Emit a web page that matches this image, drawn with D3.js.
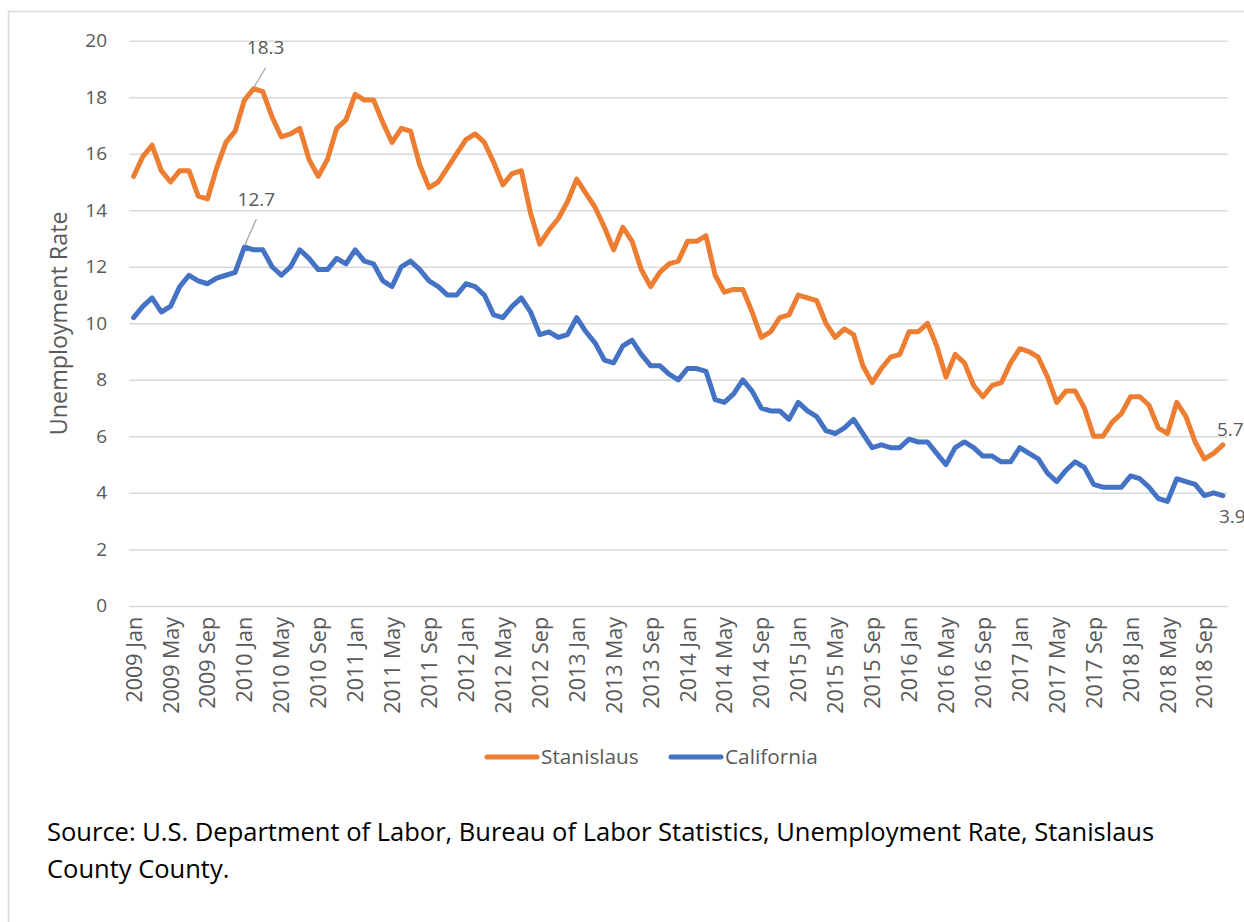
<!DOCTYPE html>
<html>
<head>
<meta charset="utf-8">
<script src="https://cdn.jsdelivr.net/npm/d3@7"></script>
<style>
  body { margin: 0; background: #fff; }
  svg { display: block; }
</style>
</head>
<body>
<svg id="chart" width="1244" height="922"></svg>
<script>
// Monthly categories, 2009 Jan through 2018 Nov
const monthNames = ["Jan","Feb","Mar","Apr","May","Jun","Jul","Aug","Sep","Oct","Nov","Dec"];
const years = [2009, 2010, 2011, 2012, 2013, 2014, 2015, 2016, 2017, 2018];
const lastMonthOfFinalYear = 11; // November
const categories = [];
years.forEach((yr, yi) => {
  const nMonths = yi === years.length - 1 ? lastMonthOfFinalYear : 12;
  for (let m = 0; m < nMonths; m++) categories.push(yr + " " + monthNames[m]);
});

// Unemployment rate (%), Stanislaus County
const stanislaus = [
  15.2, 15.9, 16.3, 15.4, 15.0, 15.4, 15.4, 14.5, 14.4, 15.5, 16.4, 16.8,
  17.9, 18.3, 18.2, 17.3, 16.6, 16.7, 16.9, 15.8, 15.2, 15.8, 16.9, 17.2,
  18.1, 17.9, 17.9, 17.1, 16.4, 16.9, 16.8, 15.6, 14.8, 15.0, 15.5, 16.0,
  16.5, 16.7, 16.4, 15.7, 14.9, 15.3, 15.4, 13.9, 12.8, 13.3, 13.7, 14.3,
  15.1, 14.6, 14.1, 13.4, 12.6, 13.4, 12.9, 11.9, 11.3, 11.8, 12.1, 12.2,
  12.9, 12.9, 13.1, 11.7, 11.1, 11.2, 11.2, 10.4, 9.5, 9.7, 10.2, 10.3,
  11.0, 10.9, 10.8, 10.0, 9.5, 9.8, 9.6, 8.5, 7.9, 8.4, 8.8, 8.9,
  9.7, 9.7, 10.0, 9.2, 8.1, 8.9, 8.6, 7.8, 7.4, 7.8, 7.9, 8.6,
  9.1, 9.0, 8.8, 8.1, 7.2, 7.6, 7.6, 7.0, 6.0, 6.0, 6.5, 6.8,
  7.4, 7.4, 7.1, 6.3, 6.1, 7.2, 6.7, 5.8, 5.2, 5.4, 5.7
];

// Unemployment rate (%), California
const california = [
  10.2, 10.6, 10.9, 10.4, 10.6, 11.3, 11.7, 11.5, 11.4, 11.6, 11.7, 11.8,
  12.7, 12.6, 12.6, 12.0, 11.7, 12.0, 12.6, 12.3, 11.9, 11.9, 12.3, 12.1,
  12.6, 12.2, 12.1, 11.5, 11.3, 12.0, 12.2, 11.9, 11.5, 11.3, 11.0, 11.0,
  11.4, 11.3, 11.0, 10.3, 10.2, 10.6, 10.9, 10.4, 9.6, 9.7, 9.5, 9.6,
  10.2, 9.7, 9.3, 8.7, 8.6, 9.2, 9.4, 8.9, 8.5, 8.5, 8.2, 8.0,
  8.4, 8.4, 8.3, 7.3, 7.2, 7.5, 8.0, 7.6, 7.0, 6.9, 6.9, 6.6,
  7.2, 6.9, 6.7, 6.2, 6.1, 6.3, 6.6, 6.1, 5.6, 5.7, 5.6, 5.6,
  5.9, 5.8, 5.8, 5.4, 5.0, 5.6, 5.8, 5.6, 5.3, 5.3, 5.1, 5.1,
  5.6, 5.4, 5.2, 4.7, 4.4, 4.8, 5.1, 4.9, 4.3, 4.2, 4.2, 4.2,
  4.6, 4.5, 4.2, 3.8, 3.7, 4.5, 4.4, 4.3, 3.9, 4.0, 3.9
];

const yTicks = [0, 2, 4, 6, 8, 10, 12, 14, 16, 18, 20];
const xTickLabels = categories.filter((c, i) => i % 4 === 0);

const seriesNames = ["Stanislaus", "California"];
const seriesColors = ["#ED7D31", "#4472C4"];
const seriesValues = [stanislaus, california];

const TEXT = "#595959";
const GRID = "#d9d9d9";
const FONT = "'Open Sans', 'DejaVu Sans', sans-serif";

const svg = d3.select("#chart");

// chart frame
svg.append("rect")
  .attr("x", 8.5).attr("y", 11.5)
  .attr("width", 1400).attr("height", 1100)
  .attr("fill", "none").attr("stroke", GRID).attr("stroke-width", 1.5);

const plotLeft = 129, plotRight = 1227.5, plotTop = 40.7, plotBottom = 605.9;

const x = d3.scalePoint()
  .domain(categories)
  .range([plotLeft, plotRight])
  .padding(0.5);

const y = d3.scaleLinear()
  .domain([0, 20])
  .range([plotBottom, plotTop]);

// horizontal gridlines with value labels
const yAxis = svg.append("g")
  .attr("transform", `translate(${plotLeft},0)`)
  .call(d3.axisLeft(y).tickValues(yTicks).tickSize(-(plotRight - plotLeft)).tickPadding(22).tickFormat(d3.format("d")));
yAxis.select(".domain").remove();
yAxis.selectAll(".tick line").attr("stroke", GRID).attr("stroke-width", 1.5);
yAxis.selectAll(".tick text")
  .attr("fill", TEXT).style("font-family", FONT).style("font-size", "19px");

// category labels, rotated
const xAxis = svg.append("g")
  .attr("transform", `translate(0,${plotBottom})`)
  .call(d3.axisBottom(x).tickValues(xTickLabels).tickSize(0).tickPadding(0));
xAxis.select(".domain").remove();
xAxis.selectAll(".tick text")
  .attr("fill", TEXT)
  .style("font-family", FONT).style("font-size", "21.5px")
  .attr("text-anchor", "end")
  .attr("dy", "0.35em")
  .attr("transform", "translate(0,11) rotate(-90)")
  .attr("x", 0).attr("y", 0);

// axis title
svg.append("text")
  .attr("transform", `translate(67,${(plotTop + plotBottom) / 2}) rotate(-90)`)
  .attr("text-anchor", "middle")
  .attr("fill", TEXT)
  .style("font-family", FONT).style("font-size", "23.3px")
  .text("Unemployment Rate");

// series lines
const line = d3.line()
  .x((d, i) => x(categories[i]))
  .y(d => y(d));

seriesValues.forEach((vals, k) => {
  svg.append("path")
    .datum(vals)
    .attr("fill", "none")
    .attr("stroke", seriesColors[k])
    .attr("stroke-width", 5)
    .attr("stroke-linejoin", "round")
    .attr("stroke-linecap", "round")
    .attr("d", line);
});

// value callouts: peaks (with leader lines) and latest values
function peakIndex(vals) { return vals.indexOf(d3.max(vals)); }
const callouts = [
  { vals: stanislaus, idx: peakIndex(stanislaus), dx: 12, dy: -41, leader: true },
  { vals: california, idx: peakIndex(california), dx: 12, dy: -48, leader: true },
  { vals: stanislaus, idx: stanislaus.length - 1, dx: -6, dy: -15, leader: false, anchor: "start" },
  { vals: california, idx: california.length - 1, dx: -4, dy: 21, leader: false, anchor: "start" }
];
callouts.forEach(c => {
  const px = x(categories[c.idx]), py = y(c.vals[c.idx]);
  if (c.leader) {
    svg.append("line")
      .attr("x1", px).attr("y1", py - 1)
      .attr("x2", px + c.dx).attr("y2", py + c.dy + 20)
      .attr("stroke", "#a6a6a6").attr("stroke-width", 1.3);
  }
  svg.append("text")
    .attr("x", px + c.dx)
    .attr("y", py + c.dy)
    .attr("text-anchor", c.anchor || "middle")
    .attr("dy", "0.35em")
    .attr("fill", TEXT)
    .style("font-family", FONT).style("font-size", "19px")
    .text(d3.format(".1f")(c.vals[c.idx]));
});

// legend
const legend = svg.append("g").attr("transform", "translate(487,757)");
const legendOffsets = [0, 184];
seriesNames.forEach((name, k) => {
  const g = legend.append("g").attr("transform", `translate(${legendOffsets[k]},0)`);
  g.append("line")
    .attr("x1", 0).attr("x2", 50).attr("y1", 0).attr("y2", 0)
    .attr("stroke", seriesColors[k]).attr("stroke-width", 5)
    .attr("stroke-linecap", "round");
  g.append("text")
    .attr("x", 54).attr("y", 0).attr("dy", "0.35em")
    .attr("fill", TEXT)
    .style("font-family", FONT).style("font-size", "20.8px")
    .text(name);
});

// source note
const sourceLines = [
  "Source: U.S. Department of Labor, Bureau of Labor Statistics, Unemployment Rate, Stanislaus",
  "County County."
];
svg.append("text")
  .attr("x", 47).attr("y", 841)
  .attr("fill", "#000")
  .style("font-family", FONT).style("font-size", "25.5px")
  .selectAll("tspan").data(sourceLines).join("tspan")
  .attr("x", 47)
  .attr("dy", (d, i) => i === 0 ? 0 : 37)
  .text(d => d);
</script>
</body>
</html>
